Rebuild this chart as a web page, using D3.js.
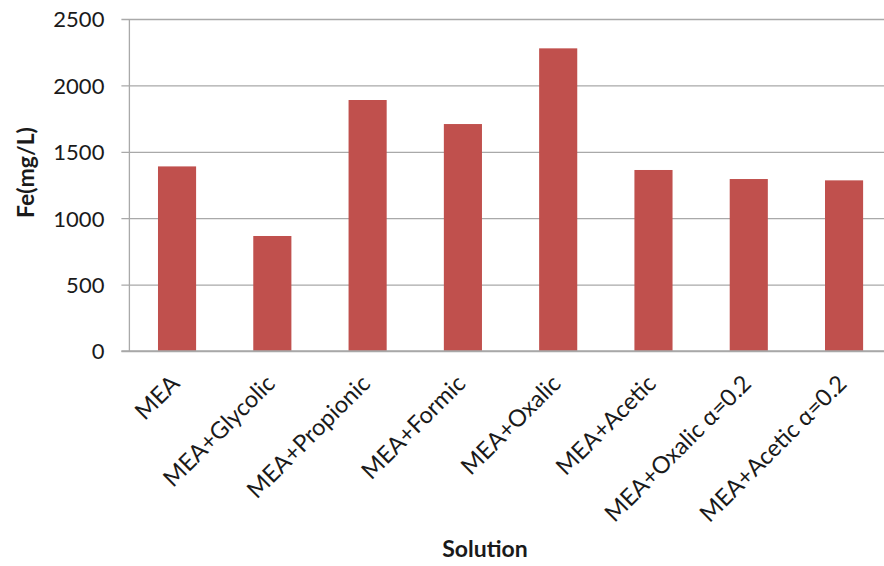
<!DOCTYPE html>
<html>
<head>
<meta charset="utf-8">
<script src="https://cdn.jsdelivr.net/npm/d3@7"></script>
<style>
  html, body { margin: 0; padding: 0; background: #fff; }
  svg { display: block; }
</style>
</head>
<body>
<svg id="chart" width="884" height="566"></svg>
<script>
// Fe concentration per solution
const categories = [
  "MEA",
  "MEA+Glycolic",
  "MEA+Propionic",
  "MEA+Formic",
  "MEA+Oxalic",
  "MEA+Acetic",
  "MEA+Oxalic \u03b1=0.2",
  "MEA+Acetic \u03b1=0.2"
];
const feValues = [1390, 866, 1890, 1709, 2279, 1363, 1295, 1285];
const yTicks = [0, 500, 1000, 1500, 2000, 2500];
const yTitle = "Fe(mg/L)";
const xTitle = "Solution";

const svg = d3.select("#chart");
const font = "Lato, 'Open Sans', sans-serif";
const textColor = "#1a1a1a";
const gridColor = "#a9a9a9";

const plot = { left: 129.4, right: 891.7, top: 19, bottom: 351 };

const x = d3.scaleBand()
  .domain(categories)
  .range([plot.left, plot.right])
  .paddingInner(0.6)
  .paddingOuter(0.3);

const y = d3.scaleLinear()
  .domain([0, 2500])
  .range([plot.bottom, plot.top]);

// Horizontal gridlines with outward tick stubs
const yAxis = d3.axisLeft(y)
  .tickValues(yTicks)
  .tickFormat(d3.format("d"))
  .tickSize(-(plot.right - plot.left))
  .tickSizeOuter(0)
  .tickPadding(0);

const gy = svg.append("g")
  .attr("transform", `translate(${plot.left},0)`)
  .call(yAxis);
gy.select(".domain").remove();
gy.selectAll(".tick line")
  .attr("x1", -8)
  .attr("stroke", gridColor)
  .attr("stroke-width", 1.3);
gy.selectAll(".tick text")
  .attr("x", -25)
  .attr("dy", "0.36em")
  .attr("fill", textColor)
  .style("font-family", font)
  .style("font-size", "22px");

// Vertical axis line
svg.append("line")
  .attr("x1", plot.left).attr("x2", plot.left)
  .attr("y1", plot.top).attr("y2", plot.bottom)
  .attr("stroke", gridColor)
  .attr("stroke-width", 1.3);

// Bars
svg.append("g")
  .selectAll("rect")
  .data(categories)
  .join("rect")
  .attr("x", d => x(d))
  .attr("width", x.bandwidth())
  .attr("y", (d, i) => y(feValues[i]))
  .attr("height", (d, i) => y(0) - y(feValues[i]))
  .attr("fill", "#c0504d");

// Baseline drawn over bar bottoms
svg.append("line")
  .attr("x1", plot.left - 8).attr("x2", plot.right)
  .attr("y1", y(0)).attr("y2", y(0))
  .attr("stroke", gridColor)
  .attr("stroke-width", 1.3);

// Category labels, rotated
const xAxis = d3.axisBottom(x).tickSize(0).tickPadding(0);
const gx = svg.append("g")
  .attr("transform", `translate(0,${plot.bottom})`)
  .call(xAxis);
gx.select(".domain").remove();
gx.selectAll(".tick text")
  .attr("transform", "translate(4,34) rotate(-45)")
  .attr("x", 0)
  .attr("y", 0)
  .attr("dy", 0)
  .attr("text-anchor", "end")
  .attr("fill", textColor)
  .style("font-family", font)
  .style("font-size", "23.5px");

// Axis titles
svg.append("text")
  .attr("transform", "translate(34,172.5) rotate(-90)")
  .attr("text-anchor", "middle")
  .attr("fill", textColor)
  .style("font-family", font)
  .style("font-weight", "bold")
  .style("font-size", "23px")
  .text(yTitle);

svg.append("text")
  .attr("x", 485)
  .attr("y", 557)
  .attr("text-anchor", "middle")
  .attr("fill", textColor)
  .style("font-family", font)
  .style("font-weight", "bold")
  .style("font-size", "23px")
  .text(xTitle);
</script>
</body>
</html>
